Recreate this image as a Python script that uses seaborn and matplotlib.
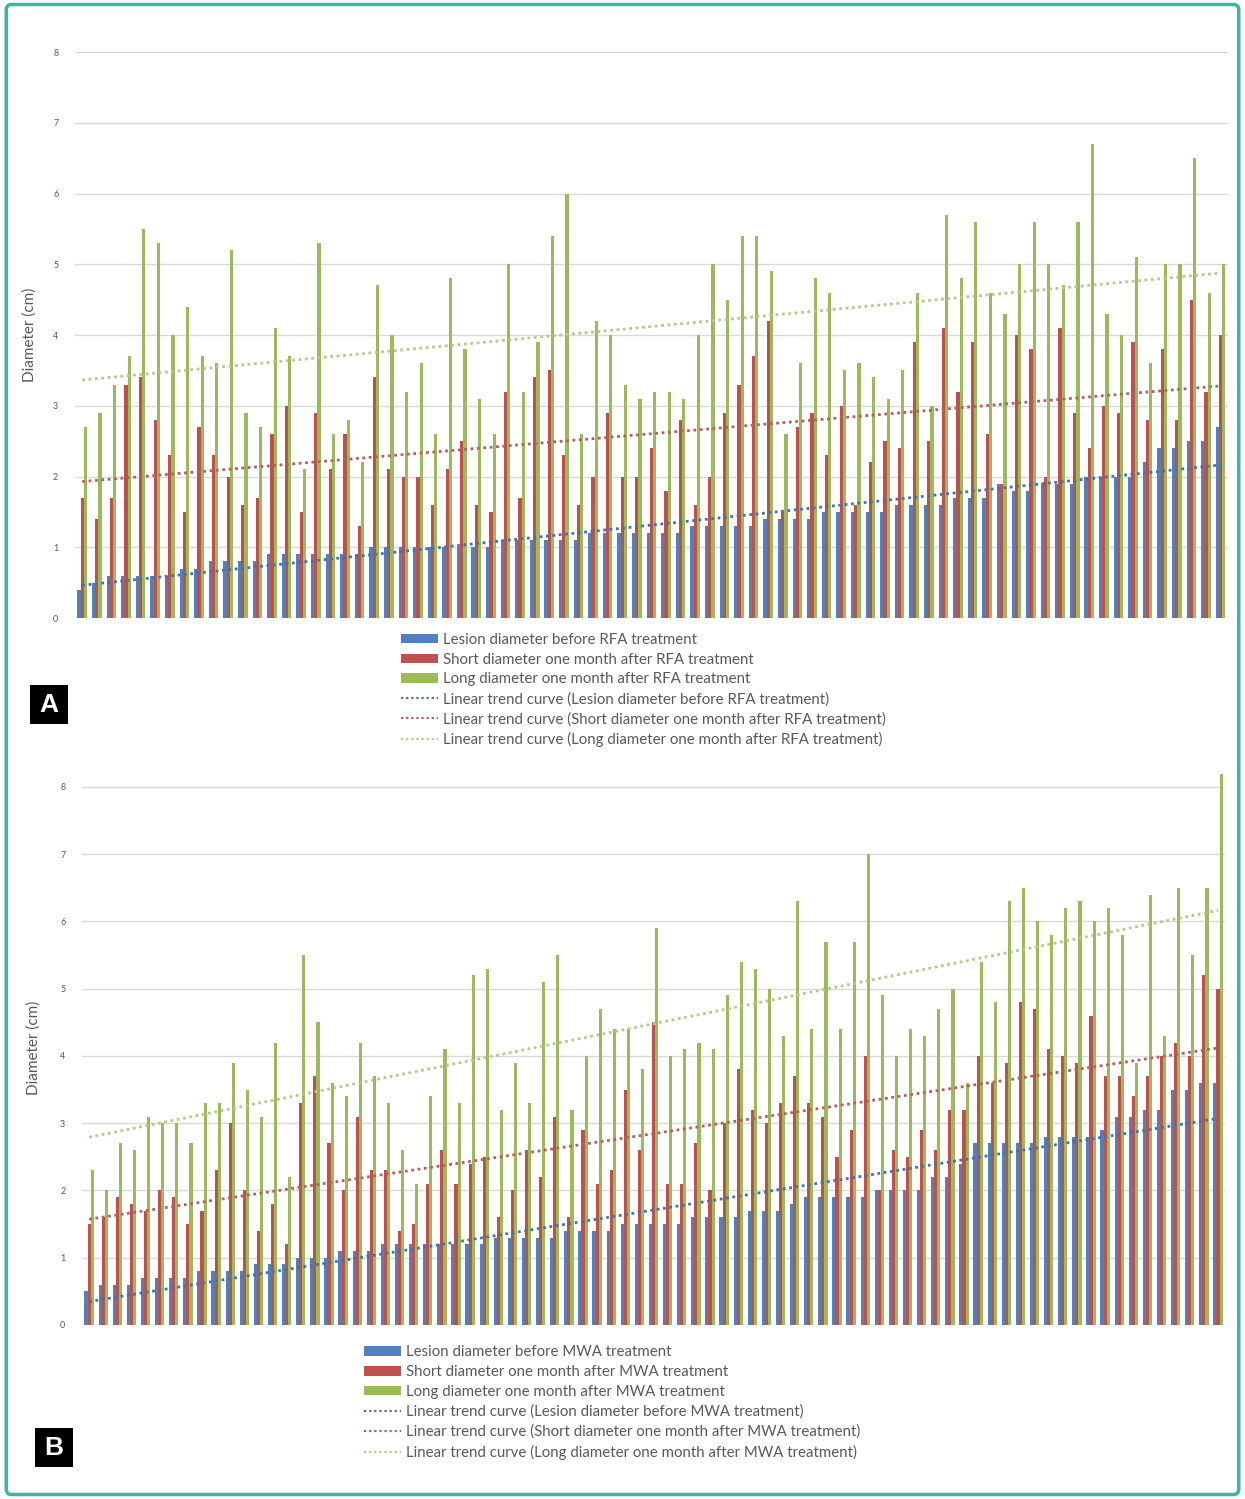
import numpy as np
import pandas as pd
import matplotlib
matplotlib.use("Agg")
import matplotlib.pyplot as plt
from matplotlib.patches import Patch, Rectangle, FancyBboxPatch
from matplotlib.lines import Line2D
import seaborn as sns

# Panel A: RFA (79 lesions)
blue_a = [0.4, 0.5, 0.6, 0.6, 0.6, 0.6, 0.6, 0.7, 0.7, 0.8, 0.8, 0.8, 0.8, 0.9, 0.9, 0.9, 0.9, 0.9, 0.9, 0.9,
          1.0, 1.0, 1.0, 1.0, 1.0, 1.0, 1.0, 1.0, 1.0, 1.1, 1.1, 1.1, 1.1, 1.1, 1.1, 1.2, 1.2, 1.2, 1.2, 1.2,
          1.2, 1.2, 1.3, 1.3, 1.3, 1.3, 1.3, 1.4, 1.4, 1.4, 1.4, 1.5, 1.5, 1.5, 1.5, 1.5, 1.6, 1.6, 1.6,
          1.6, 1.7, 1.7, 1.7, 1.9, 1.8, 1.8, 1.9, 1.9, 1.9, 2.0, 2.0, 2.0, 2.0, 2.2, 2.4, 2.4, 2.5, 2.5, 2.7]
red_a = [1.7, 1.4, 1.7, 3.3, 3.4, 2.8, 2.3, 1.5, 2.7, 2.3, 2.0, 1.6, 1.7, 2.6, 3.0, 1.5, 2.9, 2.1, 2.6, 1.3,
         3.4, 2.1, 2.0, 2.0, 1.6, 2.1, 2.5, 1.6, 1.5, 3.2, 1.7, 3.4, 3.5, 2.3, 1.6, 2.0, 2.9, 2.0, 2.0, 2.4,
         1.8, 2.8, 1.6, 2.0, 2.9, 3.3, 3.7, 4.2, 1.5, 2.7, 2.9, 2.3, 3.0, 1.6, 2.2, 2.5, 2.4, 3.9, 2.5,
         4.1, 3.2, 3.9, 2.6, 1.9, 4.0, 3.8, 2.0, 4.1, 2.9, 2.4, 3.0, 2.9, 3.9, 2.8, 3.8, 2.8, 4.5, 3.2, 4.0]
green_a = [2.7, 2.9, 3.3, 3.7, 5.5, 5.3, 4.0, 4.4, 3.7, 3.6, 5.2, 2.9, 2.7, 4.1, 3.7, 2.1, 5.3, 2.6, 2.8, 2.2,
           4.7, 4.0, 3.2, 3.6, 2.6, 4.8, 3.8, 3.1, 2.6, 5.0, 3.2, 3.9, 5.4, 6.0, 2.6, 4.2, 4.0, 3.3, 3.1, 3.2,
           3.2, 3.1, 4.0, 5.0, 4.5, 5.4, 5.4, 4.9, 2.6, 3.6, 4.8, 4.6, 3.5, 3.6, 3.4, 3.1, 3.5, 4.6, 3.0,
           5.7, 4.8, 5.6, 4.6, 4.3, 5.0, 5.6, 5.0, 4.7, 5.6, 6.7, 4.3, 4.0, 5.1, 3.6, 5.0, 5.0, 6.5, 4.6, 5.0]

# Panel B: MWA (81 lesions)
blue_b = [0.5, 0.6, 0.6, 0.6, 0.7, 0.7, 0.7, 0.7, 0.8, 0.8, 0.8, 0.8, 0.9, 0.9, 0.9, 1.0, 1.0, 1.0, 1.1, 1.1,
          1.1, 1.2, 1.2, 1.2, 1.2, 1.2, 1.2, 1.2, 1.2, 1.3, 1.3, 1.3, 1.3, 1.3, 1.4, 1.4, 1.4, 1.4, 1.5, 1.5, 1.5,
          1.5, 1.5, 1.6, 1.6, 1.6, 1.6, 1.7, 1.7, 1.7, 1.8, 1.9, 1.9, 1.9, 1.9, 1.9, 2.0, 2.0, 2.0, 2.0, 2.2,
          2.2, 2.4, 2.7, 2.7, 2.7, 2.7, 2.7, 2.8, 2.8, 2.8, 2.8, 2.9, 3.1, 3.1, 3.2, 3.2, 3.5, 3.5, 3.6, 3.6]
red_b = [1.5, 1.6, 1.9, 1.8, 1.7, 2.0, 1.9, 1.5, 1.7, 2.3, 3.0, 2.0, 1.4, 1.8, 1.2, 3.3, 3.7, 2.7, 2.0, 3.1,
         2.3, 2.3, 1.4, 1.5, 2.1, 2.6, 2.1, 2.4, 2.5, 1.6, 2.0, 2.6, 2.2, 3.1, 1.6, 2.9, 2.1, 2.3, 3.5, 2.6, 4.5,
         2.1, 2.1, 2.7, 2.0, 3.0, 3.8, 3.2, 3.0, 3.3, 3.7, 3.3, 3.1, 2.5, 2.9, 4.0, 2.0, 2.6, 2.5, 2.9, 2.6,
         3.2, 3.2, 4.0, 3.6, 3.9, 4.8, 4.7, 4.1, 4.0, 3.9, 4.6, 3.7, 3.7, 3.4, 3.7, 4.0, 4.2, 4.0, 5.2, 5.0]
green_b = [2.3, 2.0, 2.7, 2.6, 3.1, 3.0, 3.0, 2.7, 3.3, 3.3, 3.9, 3.5, 3.1, 4.2, 2.2, 5.5, 4.5, 3.6, 3.4, 4.2,
           3.7, 3.3, 2.6, 2.1, 3.4, 4.1, 3.3, 5.2, 5.3, 3.2, 3.9, 3.3, 5.1, 5.5, 3.2, 4.0, 4.7, 4.4, 4.4, 3.8, 5.9,
           4.0, 4.1, 4.2, 4.1, 4.9, 5.4, 5.3, 5.0, 4.3, 6.3, 4.4, 5.7, 4.4, 5.7, 7.0, 4.9, 4.0, 4.4, 4.3, 4.7,
           5.0, 3.6, 5.4, 4.8, 6.3, 6.5, 6.0, 5.8, 6.2, 6.3, 6.0, 6.2, 5.8, 3.9, 6.4, 4.3, 6.5, 5.5, 6.5, 8.2]

bar_colors = ['#4F81BD', '#C0504D', '#9BBB59']
trend_colors = ['#4a6fa5', '#b5605c', '#b4c98a']
text_gray = '#595959'

sns.set_style('white')
plt.rcParams['font.family'] = ['Lato', 'DejaVu Sans']


def draw_panel(ax, blue, red, green, method, ytop):
    names = [f'Lesion diameter before {method} treatment',
             f'Short diameter one month after {method} treatment',
             f'Long diameter one month after {method} treatment']
    n = len(blue)
    df = pd.DataFrame({
        'idx': list(range(n)) * 3,
        'value': blue + red + green,
        'series': [names[0]] * n + [names[1]] * n + [names[2]] * n,
    })
    sns.barplot(data=df, x='idx', y='value', hue='series', palette=bar_colors,
                width=0.66, saturation=1, linewidth=0, legend=False, ax=ax)

    # linear trend curves
    for vals, c in zip([blue, red, green], trend_colors):
        sns.regplot(x=np.arange(n), y=np.array(vals), scatter=False, ci=None, ax=ax,
                    line_kws={'color': c, 'linestyle': (0, (1, 1.3)), 'linewidth': 2.0})

    ax.set_xlim(-0.5, n - 0.5)
    ax.set_ylim(0, ytop)
    ax.set_yticks(range(0, 9))
    ax.set_xticks([])
    ax.set_xlabel('')
    ax.yaxis.grid(True, color='#d9d9d9', linewidth=1)
    ax.set_axisbelow(True)
    sns.despine(ax=ax, left=True, bottom=True)
    ax.tick_params(axis='y', length=0, pad=12, labelsize=6.5, labelcolor=text_gray)
    ax.set_ylabel('Diameter (cm)', fontsize=11, color=text_gray)

    handles = [Patch(facecolor=c, edgecolor='none') for c in bar_colors]
    handles += [Line2D([], [], color=c, linestyle=(0, (1, 1.3)), linewidth=1.6) for c in trend_colors]
    labels = names + [f'Linear trend curve ({nm})' for nm in names]
    return handles, labels


fig = plt.figure(figsize=(12.45, 14.99), dpi=100)

ax_a = fig.add_axes([0.0602, 0.5877, 0.9261, 0.3776])
h, l = draw_panel(ax_a, blue_a, red_a, green_a, 'RFA', 8)
ax_a.yaxis.set_label_coords(-0.033, 0.5)
fig.legend(h, l, loc='upper left', bbox_to_anchor=(0.322, 0.5778), bbox_transform=fig.transFigure,
           frameon=False, fontsize=10.8, handlelength=2.5, handleheight=0.6, handletextpad=0.3,
           labelspacing=0.38, borderpad=0, borderaxespad=0, labelcolor=text_gray)

ax_b = fig.add_axes([0.0659, 0.1161, 0.9181, 0.3701])
h, l = draw_panel(ax_b, blue_b, red_b, green_b, 'MWA', 8.25)
ax_b.yaxis.set_label_coords(-0.036, 0.5)
fig.legend(h, l, loc='upper left', bbox_to_anchor=(0.292, 0.1025), bbox_transform=fig.transFigure,
           frameon=False, fontsize=10.8, handlelength=2.5, handleheight=0.6, handletextpad=0.3,
           labelspacing=0.38, borderpad=0, borderaxespad=0, labelcolor=text_gray)

# panel letters
for x0, y0, letter in [(0.0241, 0.517, 'A'), (0.0281, 0.0213, 'B')]:
    fig.patches.append(Rectangle((x0, y0), 0.0305, 0.026, transform=fig.transFigure,
                                 facecolor='black', edgecolor='none'))
    fig.text(x0 + 0.0152, y0 + 0.013, letter, color='white', fontsize=19, fontweight='bold',
             ha='center', va='center', family=['Liberation Sans', 'DejaVu Sans'])

# teal frame around the figure
fig.patches.append(FancyBboxPatch((0.005, 0.003), 0.99, 0.994, transform=fig.transFigure,
                                  boxstyle='round,pad=0,rounding_size=0.004',
                                  facecolor='none', edgecolor='#3bb5a3', linewidth=2.5))

fig.savefig('out.png', dpi=100)
